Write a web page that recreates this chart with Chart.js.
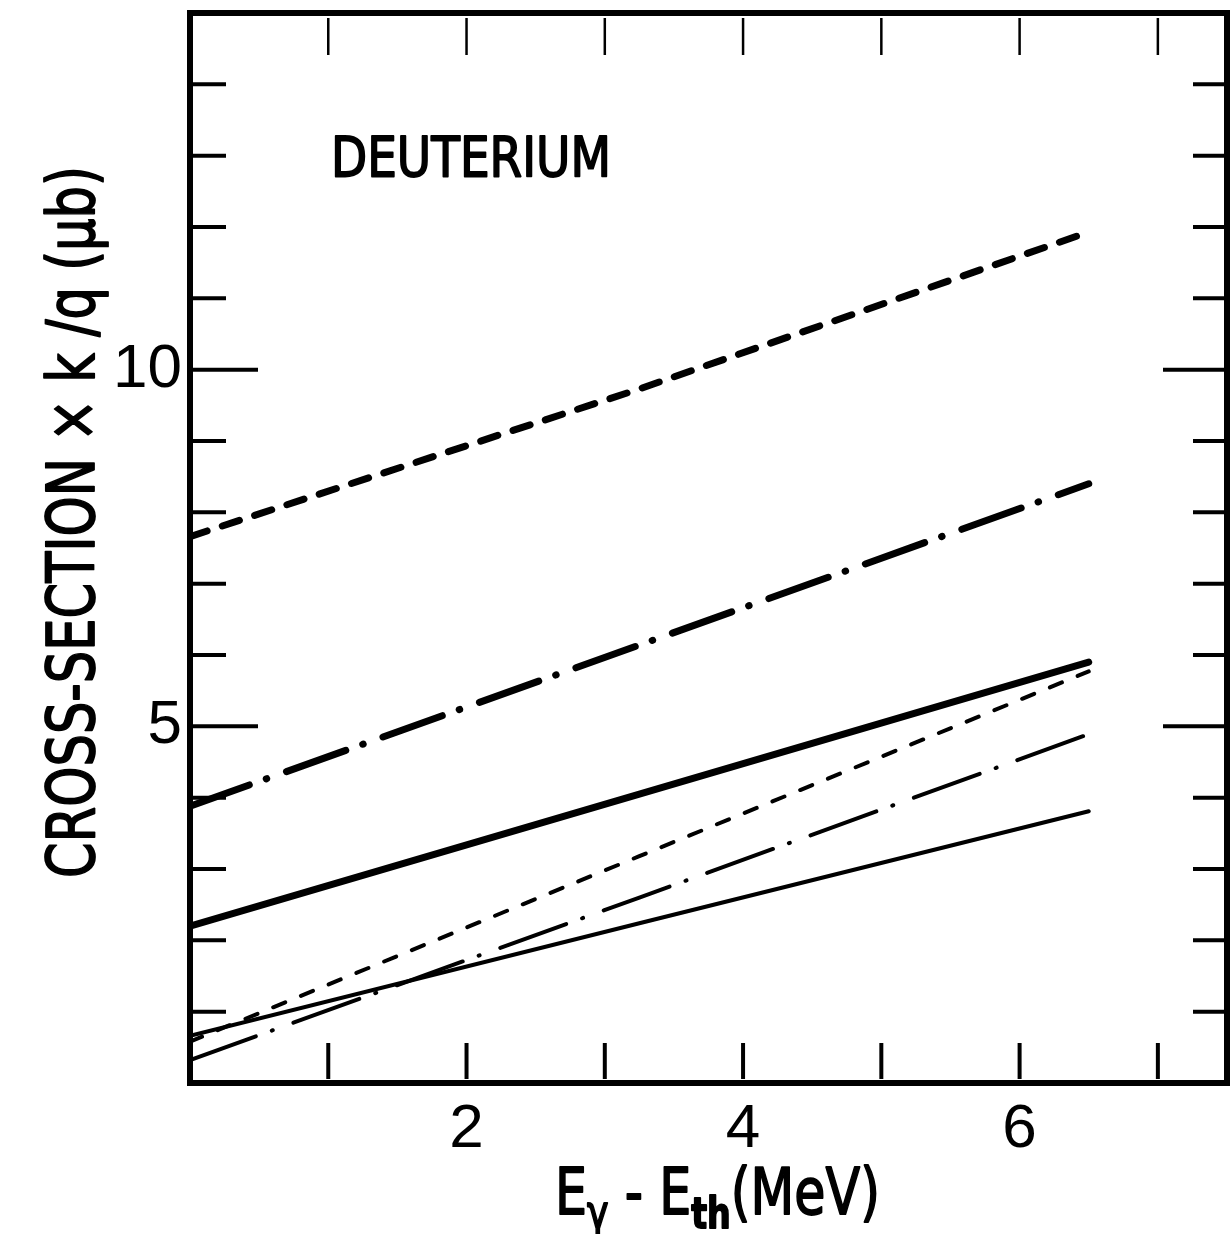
<!DOCTYPE html>
<html>
<head>
<meta charset="utf-8">
<script src="https://cdn.jsdelivr.net/npm/chart.js@4.4.0/dist/chart.umd.min.js"></script>
<style>
  html, body { margin: 0; padding: 0; background: #fff; }
</style>
</head>
<body>
<canvas id="chart" width="1230" height="1234"></canvas>
<script>
// photon energy above threshold (MeV)
const energy = [0, 3.25, 6.5];
const thickDashed = [7.66, 9.73, 11.93];
const thickDashDot = [3.88, 6.14, 8.40];
const thickSolid = [2.20, 4.05, 5.90];
const thinDashed = [0.58, 3.18, 5.77];
const thinDashDot = [0.32, 2.60, 4.89];
const thinSolid = [0.66, 2.24, 3.81];

const xTickLabels = [2, 4, 6];
const yTickLabels = [5, 10];

const FONT = '"DejaVu Sans", sans-serif';
const TICK_FONT = '"Liberation Sans", "DejaVu Sans", sans-serif';

const series = [
  { values: thickDashed, width: 7, dash: [18, 16] },
  { values: thickDashDot, width: 7, dash: [63, 18, 0.5, 21] },
  { values: thickSolid, width: 7, dash: [] },
  { values: thinDashed, width: 4, dash: [13, 17] },
  { values: thinDashDot, width: 4, dash: [70, 17, 1, 22] },
  { values: thinSolid, width: 4, dash: [] }
];

function line(ctx, x1, y1, x2, y2) {
  ctx.beginPath();
  ctx.moveTo(x1, y1);
  ctx.lineTo(x2, y2);
  ctx.stroke();
}

// filled + lightly stroked text, for the heavier lettering of the original
function inkText(ctx, txt, x, y) {
  ctx.fillText(txt, x, y);
  ctx.strokeText(txt, x, y);
}

// frame and inward ticks, all placed through the chart scales
const framePlugin = {
  id: 'frame',
  afterDatasetsDraw(chart) {
    const { ctx, chartArea: a, scales: { x, y } } = chart;
    ctx.save();
    ctx.strokeStyle = '#000';
    ctx.lineCap = 'butt';
    ctx.lineWidth = 4;
    for (let v = 1; v < 15; v++) {
      const py = y.getPixelForValue(v);
      const long = v % 5 === 0;
      line(ctx, a.left, py, a.left + (long ? 68 : 36), py);
      line(ctx, a.right, py, a.right - (long ? 64 : 34), py);
    }
    for (let v = 1; v <= 7; v++) {
      const px = x.getPixelForValue(v);
      ctx.lineWidth = 4;
      line(ctx, px, a.bottom - 4, px, a.bottom - 40);
      ctx.lineWidth = 2.5;
      line(ctx, px, a.top + 5, px, a.top + 42);
    }
    ctx.lineWidth = 6;
    ctx.strokeRect(a.left, a.top, a.right - a.left, a.bottom - a.top);
    ctx.restore();
  }
};

// axis titles and the DEUTERIUM note, squeezed to the lettering width
const textPlugin = {
  id: 'texts',
  afterDraw(chart) {
    const ctx = chart.ctx;
    ctx.save();
    ctx.fillStyle = '#000';
    ctx.strokeStyle = '#000';
    ctx.lineWidth = 1.8;
    ctx.lineJoin = 'round';
    ctx.textBaseline = 'alphabetic';

    // DEUTERIUM
    ctx.font = '55px ' + FONT;
    let w = ctx.measureText('DEUTERIUM').width;
    ctx.save();
    ctx.translate(331, 176);
    ctx.scale(280 / w, 1);
    inkText(ctx, 'DEUTERIUM', 0, 0);
    ctx.restore();

    // y title
    const yTitle = 'CROSS-SECTION \u00d7 k /q (\u03bcb)';
    ctx.font = '66px ' + FONT;
    w = ctx.measureText(yTitle).width;
    ctx.save();
    ctx.translate(94, 878);
    ctx.rotate(-Math.PI / 2);
    ctx.scale(712 / w, 1);
    inkText(ctx, yTitle, 0, 0);
    ctx.restore();

    // x title with subscripts
    const parts = [
      ['E', '64px ' + FONT, 0],
      ['\u03b3', '46px ' + FONT, 14],
      [' - ', '64px ' + FONT, 0],
      ['E', '64px ' + FONT, 0],
      ['th', 'bold 42px ' + FONT, 14],
      ['(MeV)', '64px ' + FONT, 0]
    ];
    let total = 0;
    parts.forEach(p => { ctx.font = p[1]; total += ctx.measureText(p[0]).width; });
    ctx.save();
    ctx.translate(555, 1214);
    ctx.scale(325 / total, 1);
    let cx = 0;
    parts.forEach(p => {
      ctx.font = p[1];
      inkText(ctx, p[0], cx, p[2]);
      cx += ctx.measureText(p[0]).width;
    });
    ctx.restore();
    ctx.restore();
  }
};

new Chart(document.getElementById('chart'), {
  type: 'line',
  data: {
    datasets: series.map(s => ({
      data: energy.map((e, i) => ({ x: e, y: s.values[i] })),
      borderColor: '#000',
      borderWidth: s.width,
      borderDash: s.dash,
      borderCapStyle: 'round',
      pointRadius: 0,
      tension: 0,
      fill: false
    }))
  },
  options: {
    responsive: false,
    animation: false,
    devicePixelRatio: 1,
    layout: { padding: { top: 13, right: 3, left: 0, bottom: 0 } },
    plugins: { legend: { display: false }, tooltip: { enabled: false } },
    scales: {
      x: {
        type: 'linear', min: 0, max: 7.5,
        grid: { display: false, drawTicks: false },
        border: { display: false },
        ticks: {
          stepSize: 1, autoSkip: false, maxRotation: 0, padding: 10,
          color: '#000', font: { family: TICK_FONT, size: 62 },
          callback: v => xTickLabels.includes(v) ? String(v) : ''
        },
        afterFit: s => { s.height = 151; s.paddingLeft = 0; s.paddingRight = 0; }
      },
      y: {
        type: 'linear', min: 0, max: 15,
        grid: { display: false, drawTicks: false },
        border: { display: false },
        ticks: {
          stepSize: 1, autoSkip: false, padding: 8,
          color: '#000', font: { family: TICK_FONT, size: 62 },
          callback: v => yTickLabels.includes(v) ? String(v) : ''
        },
        afterFit: s => { s.width = 190; s.paddingTop = 0; s.paddingBottom = 0; }
      }
    }
  },
  plugins: [framePlugin, textPlugin]
});
</script>
</body>
</html>
